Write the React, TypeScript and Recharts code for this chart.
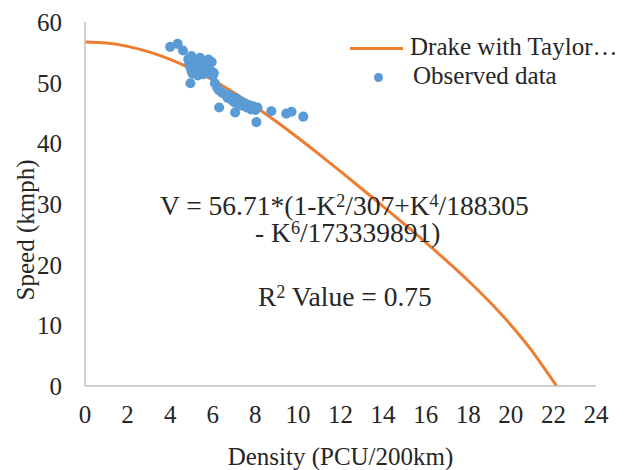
import { ComposedChart, Line, Scatter, XAxis, YAxis, ZAxis, Label } from "recharts";

const densityTicks = [0, 2, 4, 6, 8, 10, 12, 14, 16, 18, 20, 22, 24];
const speedTicks = [0, 10, 20, 30, 40, 50, 60];

// fitted curve (Drake with Taylor series)
const fitDensity = [0, 1, 2, 3, 4, 5, 6, 7, 8, 9, 10, 11, 12, 13, 14, 15, 16, 17, 18, 19, 20, 21, 22, 22.15];
const fitSpeed = [56.71, 56.53, 55.98, 55.07, 53.83, 52.27, 50.44, 48.34, 46.04, 43.55, 40.92, 38.19, 35.38, 32.51, 29.61, 26.67, 23.67, 20.58, 17.35, 13.88, 10.07, 5.76, 0.76, 0];

// observed points
const obsDensity = [
  4.0, 4.35, 4.6, 5.0, 4.85, 4.9, 4.95, 5.0, 5.05, 5.1, 5.15, 5.2, 5.25, 5.3, 5.3, 5.35, 5.4, 5.45,
  5.5, 5.55, 5.6, 5.7, 5.75, 5.8, 5.9, 5.95, 6.0, 6.05, 4.95, 6.1, 6.2, 6.3, 6.45, 6.6, 6.7, 6.8,
  6.9, 7.0, 7.1, 7.2, 7.3, 7.4, 7.5, 7.6, 7.7, 7.8, 7.9, 8.0, 8.1, 6.3, 7.05, 8.05, 8.75, 9.45, 9.7, 10.25,
];
const obsSpeed = [
  55.9, 56.4, 55.3, 54.4, 53.9, 53.2, 52.6, 52.0, 51.5, 53.6, 52.9, 52.3, 51.8, 53.3, 51.2, 52.7, 54.1, 53.5,
  52.1, 51.4, 53.0, 52.4, 51.6, 53.8, 52.0, 53.4, 51.2, 51.6, 49.9, 49.9, 49.2, 48.7, 48.3, 48.0, 47.5, 47.9,
  47.1, 46.8, 47.4, 46.5, 46.9, 46.2, 46.6, 45.9, 46.3, 45.6, 46.1, 45.5, 45.9, 45.9, 45.1, 43.5, 45.3, 44.9, 45.2, 44.4,
];

const fitData = fitDensity.map((k, i) => ({ k, v: fitSpeed[i] }));
const obsData = obsDensity.map((k, i) => ({ k, v: obsSpeed[i] }));

const FONT = "'Liberation Serif', 'Times New Roman', serif";
const TEXT = "#262626";
const ORANGE = "#ED7D31";
const BLUE = "#5B9BD5";
const AXIS = "#BFBFBF";

// superscript without growing the line box
const sup = { fontSize: "0.66em", position: "relative", top: "-0.42em" } as const;
const eq = { position: "absolute", fontSize: 27.5, lineHeight: "20px", whiteSpace: "nowrap" } as const;
const leg = { position: "absolute", fontSize: 25, lineHeight: "20px", whiteSpace: "nowrap" } as const;

export default function App() {
  return (
    <div style={{ position: "absolute", left: 0, top: 0, width: 633, height: 470, background: "#fff", fontFamily: FONT, color: TEXT }}>
      <ComposedChart width={633} height={470} margin={{ top: 22, right: 37, bottom: 0, left: 0 }}>
        <XAxis
          type="number"
          dataKey="k"
          domain={[0, 24]}
          ticks={densityTicks}
          height={84}
          tickLine={false}
          tickSize={0}
          tickMargin={19}
          axisLine={{ stroke: AXIS, strokeWidth: 1.5 }}
          tick={{ fill: TEXT, fontSize: 25, fontFamily: FONT }}
          interval={0}
        >
          <Label
            content={({ viewBox }: any) => (
              <text x={viewBox.x + viewBox.width / 2} y={456} textAnchor="middle" dominantBaseline="central" fill={TEXT} fontSize={25} fontFamily={FONT}>
                Density (PCU/200km)
              </text>
            )}
          />
        </XAxis>
        <YAxis
          type="number"
          dataKey="v"
          domain={[0, 60]}
          ticks={speedTicks}
          width={85}
          tickLine={false}
          tickSize={0}
          tickMargin={23}
          axisLine={{ stroke: AXIS, strokeWidth: 1.5 }}
          tick={{ fill: TEXT, fontSize: 25, fontFamily: FONT }}
          interval={0}
        >
          <Label
            content={() => (
              <text x={25} y={230} transform="rotate(-90 25 230)" textAnchor="middle" dominantBaseline="central" fill={TEXT} fontSize={25} fontFamily={FONT}>
                Speed (kmph)
              </text>
            )}
          />
        </YAxis>
        <ZAxis range={[80, 80]} />
        <Line data={fitData} dataKey="v" type="monotone" stroke={ORANGE} strokeWidth={3} dot={false} isAnimationActive={false} />
        <Scatter data={obsData} dataKey="v" fill={BLUE} isAnimationActive={false} />
      </ComposedChart>

      {/* legend */}
      <div style={{ position: "absolute", left: 350, top: 46.5, width: 53, height: 3, background: ORANGE }} />
      <div style={{ ...leg, left: 410, top: 37 }}>Drake with Taylor…</div>
      <div style={{ position: "absolute", left: 373.5, top: 72.5, width: 9, height: 9, borderRadius: "50%", background: BLUE }} />
      <div style={{ ...leg, left: 413, top: 66 }}>Observed data</div>

      {/* equation */}
      <div style={{ ...eq, left: 160, top: 196 }}>
        V = 56.71*(1-K<span style={sup}>2</span>/307+K<span style={sup}>4</span>/188305
      </div>
      <div style={{ ...eq, left: 255, top: 223 }}>
        - K<span style={sup}>6</span>/173339891)
      </div>
      <div style={{ ...eq, left: 258, top: 287 }}>
        R<span style={sup}>2</span> Value = 0.75
      </div>
    </div>
  );
}
